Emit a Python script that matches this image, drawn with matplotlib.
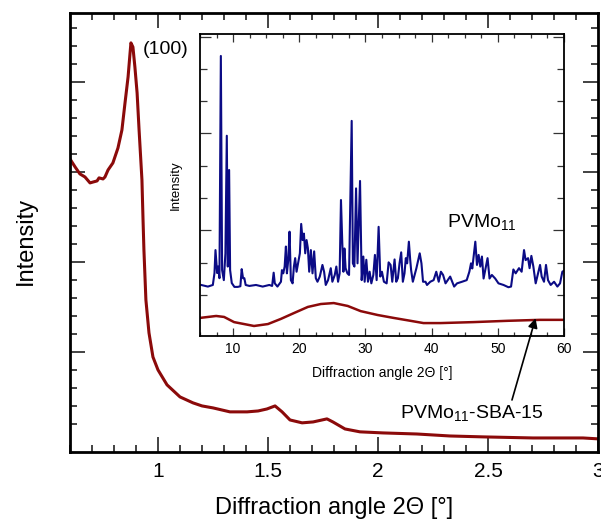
"""
Small-angle XRD of PVMo11-SBA-15 with a wide-angle inset (PVMo11 vs PVMo11-SBA-15).
"""
import matplotlib
matplotlib.use('Agg')
import matplotlib.pyplot as plt
from matplotlib.ticker import MultipleLocator, FixedLocator, FormatStrFormatter

plt.rcParams['font.family'] = ['Liberation Sans', 'DejaVu Sans']
plt.rcParams['mathtext.fontset'] = 'custom'
plt.rcParams['mathtext.rm'] = 'Liberation Sans'
plt.rcParams['mathtext.it'] = 'Liberation Sans:italic'

RED = '#8B0A0A'
BLUE = '#0B0B85'

# -- main pattern: PVMo11-SBA-15, small angle (arb. units) --
sba_x = [0.600, 0.623, 0.645, 0.668, 0.691, 0.705, 0.723, 0.732, 0.750, 0.759,
         0.773, 0.795, 0.818, 0.836, 0.850, 0.864, 0.873, 0.877, 0.886, 0.895,
         0.905, 0.914, 0.927, 0.932, 0.936, 0.945, 0.959, 0.977, 1.000, 1.041,
         1.100, 1.159, 1.200, 1.250, 1.327, 1.405, 1.455, 1.495, 1.532, 1.564,
         1.600, 1.655, 1.705, 1.768, 1.795, 1.850, 1.918, 2.023, 2.177, 2.327,
         2.477, 2.705, 2.932, 3.000]
sba_y = [15.72, 15.28, 14.89, 14.72, 14.39, 14.44, 14.50, 14.67, 14.61, 14.72,
         15.11, 15.50, 16.33, 17.33, 18.83, 20.28, 21.61, 22.17, 21.94, 20.83,
         19.39, 17.33, 14.56, 12.33, 10.67, 7.89, 6.06, 4.72, 4.00, 3.17,
         2.50, 2.17, 2.00, 1.89, 1.67, 1.67, 1.72, 1.83, 2.00, 1.67,
         1.22, 1.06, 1.11, 1.28, 1.11, 0.72, 0.56, 0.50, 0.44, 0.33,
         0.28, 0.22, 0.22, 0.17]

# -- inset: wide angle, PVMo11-SBA-15 (red) --
wsba_x = [5.0, 7.44, 8.64, 10.15, 11.66, 13.16, 15.27, 17.23, 19.19, 21.30,
          23.25, 25.21, 27.32, 29.28, 31.84, 34.25, 36.81, 38.77, 41.33, 46.30,
          51.42, 56.39, 60.0]
wsba_y = [0.29, 0.35, 0.32, 0.16, 0.10, 0.04, 0.10, 0.26, 0.44, 0.63,
          0.72, 0.75, 0.66, 0.50, 0.38, 0.29, 0.20, 0.13, 0.13, 0.16,
          0.20, 0.23, 0.23]

# -- inset: wide angle, bulk PVMo11 (blue) --
pvmo_x = [5.18, 6.19, 6.94, 7.19, 7.34, 7.59, 7.74, 7.94, 8.15, 8.34,
          8.60, 8.84, 9.05, 9.20, 9.40, 9.55, 9.80, 10.2, 10.7, 11.1,
          11.3, 11.5, 11.7, 11.9, 12.46, 13.46, 14.47, 15.47, 15.9, 16.13,
          16.3, 16.7, 17.23, 17.38, 17.58, 17.79, 17.98, 18.13, 18.34, 18.53,
          18.73, 18.99, 19.19, 19.38, 19.59, 20.09, 20.29, 20.5, 20.7, 20.9,
          21.1, 21.3, 21.5, 21.75, 22.0, 22.25, 22.5, 22.75, 23.1, 23.5,
          23.75, 24.0, 24.35, 24.76, 25.0, 25.36, 25.6, 25.86, 26.1, 26.3,
          26.5, 26.67, 26.82, 27.0, 27.27, 27.52, 27.92, 28.1, 28.33, 28.58,
          28.8, 29.18, 29.43, 29.68, 29.88, 30.13, 30.38, 30.63, 30.89, 31.19,
          31.43, 31.69, 31.99, 32.24, 32.49, 32.79, 33.2, 33.5, 33.8, 34.05,
          34.4, 34.65, 34.9, 35.15, 35.4, 35.65, 35.9, 36.1, 36.3, 36.56,
          36.76, 36.9, 37.16, 37.7, 38.2, 38.46, 38.7, 39.07, 39.3, 39.8,
          40.3, 40.7, 41.07, 41.4, 41.73, 42.1, 42.8, 43.4, 43.84, 44.6,
          45.3, 45.7, 45.95, 46.14, 46.6, 46.85, 47.1, 47.35, 47.6, 47.85,
          48.45, 48.75, 49.1, 49.6, 50.1, 50.86, 51.6, 52.0, 52.35, 52.7,
          53.2, 53.6, 53.96, 54.2, 54.57, 54.8, 55.07, 55.37, 55.72, 56.08,
          56.38, 56.63, 56.98, 57.28, 57.58, 57.99, 58.5, 59.0, 59.4, 59.75,
          60.0]
pvmo_y = [1.31, 1.26, 1.31, 1.68, 2.39, 1.68, 1.88, 1.52, 8.40, 1.77,
          1.46, 2.29, 5.93, 1.88, 4.87, 1.77, 1.37, 1.25, 1.25, 1.27,
          1.80, 1.52, 1.52, 1.31, 1.28, 1.31, 1.26, 1.31, 1.28, 1.69,
          1.36, 1.26, 1.41, 1.77, 1.67, 1.88, 2.50, 1.67, 2.09, 2.96,
          1.46, 1.36, 1.88, 2.14, 1.72, 2.29, 3.20, 2.70, 2.90, 2.29,
          2.70, 2.45, 1.72, 2.39, 1.67, 2.35, 1.52, 1.41, 1.57, 1.93,
          1.72, 1.31, 1.46, 1.83, 1.41, 1.62, 1.88, 1.41, 1.67, 3.94,
          2.60, 1.72, 2.44, 1.83, 1.67, 1.62, 6.39, 1.98, 1.88, 4.30,
          1.98, 4.53, 1.46, 2.19, 1.41, 2.09, 1.41, 1.72, 1.36, 1.62,
          2.24, 1.46, 3.11, 1.57, 1.72, 1.41, 1.36, 2.01, 1.93, 1.41,
          2.10, 1.41, 1.52, 1.98, 2.32, 1.41, 1.67, 2.14, 1.98, 2.65,
          2.09, 1.77, 1.41, 1.83, 2.29, 1.98, 1.41, 1.41, 1.31, 1.41,
          1.46, 1.72, 1.41, 1.72, 1.62, 1.36, 1.57, 1.26, 1.36, 1.41,
          1.46, 1.72, 1.98, 1.82, 2.65, 1.93, 2.24, 1.88, 2.19, 1.51,
          2.14, 1.51, 1.62, 1.51, 1.36, 1.31, 1.24, 1.26, 1.79, 1.67,
          1.83, 1.72, 2.39, 2.08, 2.14, 1.83, 2.21, 1.88, 1.36, 1.67,
          1.93, 1.57, 1.41, 1.93, 1.46, 1.31, 1.41, 1.26, 1.36, 1.72,
          1.75]

main_yticks_major = [5, 10, 15, 20]
main_yticks_minor = [1, 2, 3, 4, 6, 7, 8, 9, 11, 12, 13, 14, 16, 17, 18, 19, 21, 22, 23]
inset_yticks_major = [3, 6, 9]
inset_yticks_minor = [1, 2, 4, 5, 7, 8]

fig = plt.figure(figsize=(6.01, 5.23), dpi=100)
W, H = 601, 523


def px_axes(l, t, r, b):
    return [l / W, 1 - b / H, (r - l) / W, (b - t) / H]


# -- main axes --
ax = fig.add_axes(px_axes(70, 13, 598, 452))
ax.plot(sba_x, sba_y, color=RED, lw=2.2, solid_joinstyle='round')
ax.set_xlim(0.6, 3.0)
ax.set_ylim(-0.56, 23.83)
ax.xaxis.set_major_locator(MultipleLocator(0.5))
ax.xaxis.set_minor_locator(MultipleLocator(0.1))
ax.xaxis.set_major_formatter(FormatStrFormatter('%g'))
ax.yaxis.set_major_locator(FixedLocator(main_yticks_major))
ax.yaxis.set_minor_locator(FixedLocator(main_yticks_minor))
ax.set_yticklabels([])
ax.tick_params(which='both', direction='in', top=True, right=True,
               width=1.2, color='#222222')
ax.tick_params(which='major', length=10.5, labelsize=15, pad=7)
ax.tick_params(which='minor', length=5.2)
for s in ax.spines.values():
    s.set_linewidth(2.0)
ax.set_xlabel('Diffraction angle 2Θ [°]', fontsize=17)
ax.xaxis.set_label_coords(0.5, -0.103)
ax.set_ylabel('Intensity', fontsize=17)
ax.yaxis.set_label_coords(-0.062, 0.48)
ax.text(0.93, 21.8, '(100)', fontsize=14, ha='left', va='center')

# -- inset --
ins = fig.add_axes(px_axes(200, 34, 564, 336))
ins.plot(pvmo_x, pvmo_y, color=BLUE, lw=1.5)
ins.plot(wsba_x, wsba_y, color=RED, lw=1.8)
ins.set_xlim(5, 60)
ins.set_ylim(-0.27, 9.08)
ins.xaxis.set_major_locator(MultipleLocator(10))
ins.xaxis.set_minor_locator(MultipleLocator(2.5))
ins.yaxis.set_major_locator(FixedLocator(inset_yticks_major))
ins.yaxis.set_minor_locator(FixedLocator(inset_yticks_minor))
ins.set_yticklabels([])
ins.tick_params(which='both', direction='in', top=True, right=True,
                width=0.9, color='#333333', labelsize=10, pad=4)
ins.tick_params(axis='x', which='major', length=5.8)
ins.tick_params(axis='x', which='minor', length=3.0)
ins.tick_params(axis='y', which='major', length=7.9)
ins.tick_params(axis='y', which='minor', length=5.0)
for s in ins.spines.values():
    s.set_linewidth(1.3)
ins.set_xlabel('Diffraction angle 2Θ [°]', fontsize=10)
ins.xaxis.set_label_coords(0.5, -0.1)
ins.set_ylabel('Intensity', fontsize=9.5)
ins.yaxis.set_label_coords(-0.05, 0.5)
ins.text(47.6, 3.26, r'PVMo$_{11}$', fontsize=14, ha='center', va='center')

# label + arrow for the SBA-15 trace in the inset (drawn by the inset so it sits on top)
ax.text(2.427, 1.61, r'PVMo$_{11}$-SBA-15', fontsize=14, ha='center', va='center')
arr = ins.annotate('', xy=(55.7, 0.28), xycoords='data',
                   xytext=(2.609, 2.33), textcoords=ax.transData,
                   annotation_clip=False,
                   arrowprops=dict(arrowstyle='-|>', color='black', lw=1.2,
                                   mutation_scale=14, shrinkA=0, shrinkB=0))
arr.arrow_patch.set_clip_on(False)

fig.savefig('out.png', dpi=100)
plt.close(fig)
